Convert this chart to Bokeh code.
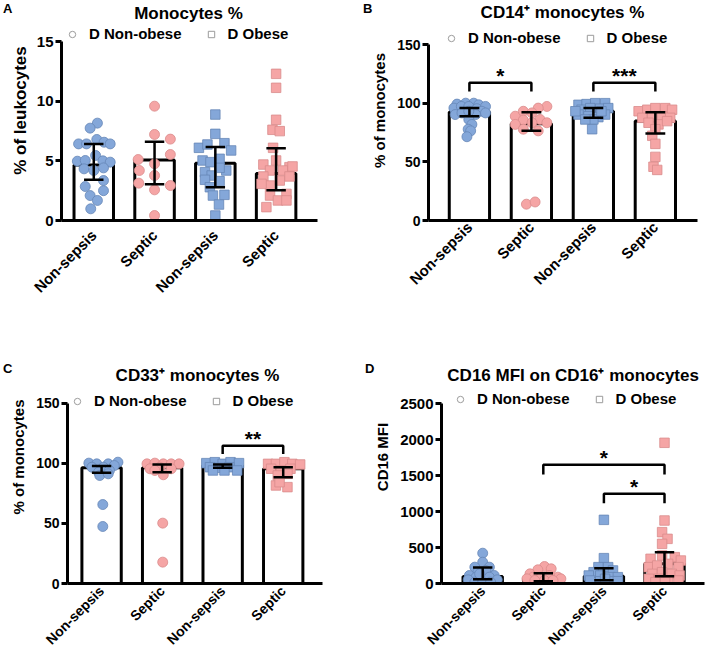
import math
from bokeh.plotting import figure
from bokeh.models import Range1d, FixedTicker, Label, Legend, LegendItem, LinearAxis
from bokeh.layouts import column, row
from bokeh.embed import file_html
from bokeh.resources import INLINE
from bokeh.core.properties import value

# ---------------- data ----------------
CATEGORIES = ["Non-sepsis", "Septic", "Non-sepsis", "Septic"]
LEGEND_LABELS = ["D Non-obese", "D Obese"]

# Panel A
A_TITLE = "Monocytes %"
A_YLABEL = "% of leukocytes"
A_YTICKS = [0, 5, 10, 15]
A_BAR = [4.66, 5.06, 4.80, 3.94]
A_HI = [6.42, 6.59, 6.15, 6.06]
A_LO = [3.41, 3.04, 2.79, 2.54]
A_G1_VAL = [8.16, 7.74, 6.42, 6.42, 6.79, 6.56, 6.42, 5.45, 4.97, 5.03, 5.0, 4.89, 4.33, 4.41, 4.19, 2.85, 3.35, 2.09, 1.68, 0.98, 2.5]
A_G1_OFF = [0.06, -0.06, -0.25, -0.12, 0.05, 0.17, 0.27, 0.03, -0.27, -0.14, 0.15, 0.27, -0.16, 0.16, 0.0, -0.14, 0.16, -0.06, 0.06, -0.05, 0.16]
A_G2_VAL = [9.58, 7.21, 6.82, 5.11, 5.53, 4.19, 4.75, 3.77, 3.13, 2.93, 2.57, 0.42]
A_G2_OFF = [0.0, 0.0, 0.26, -0.27, 0.26, -0.25, 0.0, 0.0, -0.26, 0.26, 0.0, 0.0]
A_G3_VAL = [8.88, 7.26, 6.09, 6.37, 6.48, 5.87, 5.03, 5.17, 4.89, 4.19, 4.05, 4.41, 3.77, 3.41, 3.30, 2.79, 2.09, 2.15, 1.34, 0.42]
A_G3_OFF = [0.0, 0.0, -0.27, -0.13, 0.15, 0.26, -0.21, 0.07, -0.08, 0.18, -0.17, 0.07, -0.06, -0.17, 0.07, -0.09, -0.04, 0.15, 0.06, 0.0]
A_G4_VAL = [12.29, 11.12, 8.44, 7.6, 7.49, 6.09, 4.69, 4.47, 4.19, 4.53, 4.19, 3.69, 3.69, 2.93, 3.35, 2.23, 2.09, 1.68, 1.68, 1.12, 5.03, 3.07]
A_G4_OFF = [0.0, 0.0, 0.0, -0.06, 0.06, -0.05, -0.21, 0.22, 0.11, 0.27, -0.10, 0.22, -0.21, -0.10, 0.06, 0.17, -0.10, 0.03, 0.17, -0.16, 0.0, -0.24]
A_BRACKET_PAIRS = []
A_BRACKET_TOP = []
A_BRACKET_LEG = []
A_BRACKET_TEXT = []

# Panel B
B_TITLE = "CD14\u207a monocytes %"
B_YLABEL = "% of monocytes"
B_YTICKS = [0, 50, 100, 150]
B_BAR = [92.5, 82.5, 93.1, 84.7]
B_HI = [95.8, 92.2, 95.8, 92.2]
B_LO = [88.9, 76.4, 87.5, 74.2]
B_G1_VAL = [99.2, 100, 100, 98.6, 97.2, 95.8, 97.2, 97.2, 95.3, 93.1, 90.3, 91.7, 90.3, 91.7, 93.1, 86.1, 81.9, 77.8, 76.4, 71.4]
B_G1_OFF = [-0.20, -0.06, 0.07, 0.15, 0.26, -0.25, -0.13, -0.01, 0.12, 0.20, -0.23, -0.12, 0.10, 0.26, -0.01, -0.01, 0.04, -0.02, 0.02, -0.04]
B_G2_VAL = [97.2, 95.8, 88.9, 93.1, 91.7, 86.1, 85.6, 83.3, 81.9, 83.3, 77.8, 76.4, 13.9, 15.8]
B_G2_OFF = [0.25, 0.11, -0.26, -0.13, 0.01, 0.14, -0.13, 0.25, -0.26, 0.01, -0.13, 0.11, -0.08, 0.06]
B_G3_VAL = [98.6, 99.2, 100, 100, 94.4, 95.8, 95.3, 95.8, 90.3, 88.9, 88.1, 90.3, 86.1, 86.1, 77.8, 93.1, 93.1]
B_G3_OFF = [-0.24, -0.11, 0.03, 0.19, -0.19, -0.05, 0.11, 0.24, -0.24, -0.08, 0.08, 0.19, 0.0, -0.13, -0.02, 0.13, -0.29]
B_G4_VAL = [93.1, 94.4, 95.8, 95.8, 94.4, 87.5, 88.9, 88.9, 87.5, 83.3, 81.9, 84.7, 77.8, 72.2, 65.3, 54.2, 45.8, 43.1]
B_G4_OFF = [-0.27, -0.13, 0.0, 0.16, 0.27, -0.21, -0.05, 0.11, 0.24, -0.11, 0.05, 0.19, 0.0, -0.05, 0.0, 0.0, -0.03, 0.03]
B_BRACKET_PAIRS = [(1, 2), (3, 4)]
B_BRACKET_TOP = [117.5, 117.5]
B_BRACKET_LEG = [110, 110]
B_BRACKET_TEXT = ["*", "***"]

# Panel C
C_TITLE = "CD33\u207a monocytes %"
C_YLABEL = "% of monocytes"
C_YTICKS = [0, 50, 100, 150]
C_BAR = [96.4, 96.4, 98.3, 95.6]
C_HI = [98.0, 99.2, 99.2, 96.9]
C_LO = [92.2, 92.8, 96.4, 88.6]
C_G1_VAL = [100.3, 99.7, 99.7, 101.1, 96.9, 96.9, 98.3, 92.8, 94.2, 90.0, 91.4, 65.8, 47.5]
C_G1_OFF = [-0.21, -0.08, 0.11, 0.27, -0.16, 0.03, 0.21, -0.05, 0.13, -0.03, 0.11, 0.02, 0.02]
C_G2_VAL = [99.7, 100.3, 99.7, 99.7, 99.7, 95.6, 96.9, 95.6, 90.6, 94.2, 50.3, 17.8]
C_G2_OFF = [-0.25, -0.12, 0.02, 0.15, 0.28, -0.20, -0.04, 0.15, 0.02, -0.12, 0.01, 0.01]
C_G3_VAL = [100.3, 101.1, 99.7, 101.1, 100.3, 96.9, 96.4, 96.9, 94.2, 94.2, 94.2]
C_G3_OFF = [-0.27, -0.13, 0.0, 0.13, 0.27, -0.21, -0.05, 0.11, 0.24, 0.03, -0.16]
C_G4_VAL = [99.7, 99.7, 101.1, 99.7, 99.2, 95.6, 94.2, 95.6, 90.0, 91.4, 81.7, 80.3, 84.4]
C_G4_OFF = [-0.25, -0.12, 0.02, 0.15, 0.28, -0.20, -0.04, 0.12, -0.09, 0.07, -0.12, 0.07, -0.06]
C_BRACKET_PAIRS = [(3, 4)]
C_BRACKET_TOP = [114.7]
C_BRACKET_LEG = [108]
C_BRACKET_TEXT = ["**"]

# Panel D
D_TITLE = "CD16 MFI on CD16\u207a  monocytes"
D_YLABEL = "CD16 MFI"
D_YTICKS = [0, 500, 1000, 1500, 2000, 2500]
D_BAR = [97, 65, 102, 273]
D_HI = [222, 143, 213, 435]
D_LO = [60, 30, 45, 100]
D_G1_VAL = [421, 296, 227, 227, 157, 181, 111, 111, 88, 65, 88, 51, 51, 19, 19, 19, 134]
D_G1_OFF = [0.0, 0.0, -0.13, 0.11, -0.08, 0.05, -0.22, 0.19, -0.11, 0.0, 0.11, -0.24, 0.24, -0.13, 0.0, 0.13, -0.05]
D_G2_VAL = [236, 190, 204, 134, 88, 88, 88, 111, 65, 65, 42, 42, 42]
D_G2_OFF = [0.02, -0.09, 0.13, -0.22, 0.24, -0.17, -0.03, 0.10, -0.27, 0.29, -0.14, 0.02, 0.16]
D_G3_VAL = [884, 352, 227, 227, 157, 181, 111, 111, 88, 88, 42, 32, 32, 32, 65]
D_G3_OFF = [0.0, 0.0, -0.09, 0.07, -0.17, 0.15, -0.25, -0.06, 0.10, 0.23, -0.23, -0.06, 0.10, 0.23, 0.02]
D_G4_VAL = [1954, 875, 713, 620, 551, 343, 389, 366, 319, 227, 250, 273, 227, 134, 157, 134, 111, 65, 65, 42, 42, 19, 19]
D_G4_OFF = [0.0, 0.0, -0.04, 0.05, -0.04, -0.23, -0.04, 0.17, 0.27, -0.26, -0.12, 0.06, 0.23, -0.20, -0.04, 0.12, 0.25, -0.26, -0.10, 0.06, 0.23, -0.15, 0.01]
D_BRACKET_PAIRS = [(2, 4), (3, 4)]
D_BRACKET_TOP = [1648, 1245]
D_BRACKET_LEG = [1514, 1116]
D_BRACKET_TEXT = ["*", "*"]

# ---------------- style ----------------
FONT = "Liberation Sans"
GROUP_FILL = ["#84a7d9", "#f5a5a5", "#84a7d9", "#f5a5a5"]
GROUP_LINE = ["#6686b6", "#d98b8b", "#6686b6", "#d98b8b"]
GROUP_MARKER = ["circle", "circle", "square", "square"]
GROUP_SIZE = [10, 10, 9.5, 9.5]
NAN = float("nan")


def build(letter, title, ylabel, yticks, bars, hi, lo, groups, pairs, btop, bleg, btext, st):
    p = figure(width=st["w"], height=st["h"],
               x_range=Range1d(st["xlo"], st["xhi"]), y_range=Range1d(0, st["ytop"]),
               output_backend="svg", toolbar_location=None, title_location=None,
               min_border_left=st["l"], min_border_right=st["r"],
               min_border_top=0, min_border_bottom=st["b"])
    p.outline_line_color = None
    p.grid.visible = False
    p.background_fill_color = "white"
    p.border_fill_color = "white"

    ya = p.yaxis[0]
    ya.ticker = FixedTicker(ticks=yticks)
    ya.bounds = (yticks[0], yticks[-1])
    ya.axis_label = ylabel
    ya.axis_line_width = 3
    ya.axis_line_color = "black"
    ya.major_tick_line_width = 3
    ya.major_tick_out = 6
    ya.major_tick_in = 0
    ya.minor_tick_line_color = None
    ya.major_label_standoff = 2
    ya.major_label_text_font = FONT
    ya.major_label_text_font_style = "bold"
    ya.major_label_text_font_size = st["ytick_fs"]
    ya.major_label_text_color = "black"
    ya.axis_label_text_font = FONT
    ya.axis_label_text_font_style = "bold"
    ya.axis_label_text_font_size = st["ylab_fs"]
    ya.axis_label_text_color = "black"
    ya.axis_label_standoff = st["ylab_so"]

    # panel letter: single tick label of an outer, line-less left axis
    ly = st["let_y"]
    la = LinearAxis(ticker=FixedTicker(ticks=[ly]), major_label_overrides={ly: letter},
                    bounds=(ly - st["let_d"], ly + st["let_d"]),
                    axis_line_color=None, major_tick_line_color=None,
                    minor_tick_line_color=None, major_tick_out=0, major_tick_in=0,
                    major_label_standoff=st["let_so"], major_label_text_font=FONT,
                    major_label_text_font_style="bold", major_label_text_font_size="13px",
                    major_label_text_color="black")
    p.add_layout(la, "left")

    xa = p.xaxis[0]
    xa.ticker = FixedTicker(ticks=[1, 2, 3, 4])
    xa.major_label_overrides = {i + 1: c for i, c in enumerate(CATEGORIES)}
    xa.major_label_orientation = math.pi / 4
    xa.axis_line_width = 3
    xa.axis_line_color = "black"
    xa.major_tick_line_color = None
    xa.major_tick_out = 0
    xa.major_tick_in = 0
    xa.minor_tick_line_color = None
    xa.major_label_standoff = st["xso"]
    xa.major_label_text_font = FONT
    xa.major_label_text_font_style = "bold"
    xa.major_label_text_font_size = st["xtick_fs"]
    xa.major_label_text_color = "black"

    xs = [1, 2, 3, 4]
    p.vbar(x=xs, top=bars, bottom=0, width=0.65, fill_color="white",
           line_color="black", line_width=3)

    for g, (vals, offs) in enumerate(groups):
        p.scatter(x=[g + 1 + o for o in offs], y=vals, marker=GROUP_MARKER[g],
                  size=GROUP_SIZE[g], fill_color=GROUP_FILL[g],
                  line_color=GROUP_LINE[g], line_width=0.8)

    cap = 0.16
    p.segment(x0=xs, y0=lo, x1=xs, y1=hi, line_color="black", line_width=2.5)
    p.segment(x0=[x - cap for x in xs], y0=hi, x1=[x + cap for x in xs], y1=hi,
              line_color="black", line_width=2.5)
    p.segment(x0=[x - cap for x in xs], y0=lo, x1=[x + cap for x in xs], y1=lo,
              line_color="black", line_width=2.5)

    if pairs:
        p.multi_line(xs=[[a, a, b, b] for a, b in pairs],
                     ys=[[lg, tp, tp, lg] for tp, lg in zip(btop, bleg)],
                     line_color="black", line_width=2.5)
        p.text(x=[(a + b) / 2 for a, b in pairs], y=btop, text=btext,
               text_align="center", text_baseline="alphabetic", y_offset=-7,
               text_font=value(FONT), text_font_style="bold",
               text_font_size="21px", text_color="black")

    r1 = p.scatter(x=[NAN], y=[NAN], marker="circle", size=9, fill_color=None,
                   line_color="#9c9c9c", line_width=1)
    r2 = p.scatter(x=[NAN], y=[NAN], marker="square", size=9, fill_color=None,
                   line_color="#9c9c9c", line_width=1)
    leg = Legend(items=[LegendItem(label=LEGEND_LABELS[0], renderers=[r1]),
                        LegendItem(label=LEGEND_LABELS[1], renderers=[r2])],
                 orientation="horizontal", location=st["leg_loc"],
                 margin=0, padding=0, spacing=18,
                 glyph_width=22, glyph_height=16, label_height=16,
                 label_standoff=6, label_text_font=FONT,
                 label_text_font_style="bold", label_text_font_size="15px",
                 label_text_color="black",
                 border_line_color=None, background_fill_alpha=0)
    p.add_layout(leg)

    p.add_layout(Label(x=st["title_x"], y=st["title_y"], x_units="screen", y_units="screen",
                       text=title, text_align="center", text_baseline="middle",
                       text_font=FONT, text_font_style="bold",
                       text_font_size="17px", text_color="black"))
    return p


pA = build("A", A_TITLE, A_YLABEL, A_YTICKS, A_BAR, A_HI, A_LO,
           [(A_G1_VAL, A_G1_OFF), (A_G2_VAL, A_G2_OFF), (A_G3_VAL, A_G3_OFF), (A_G4_VAL, A_G4_OFF)],
           A_BRACKET_PAIRS, A_BRACKET_TOP, A_BRACKET_LEG, A_BRACKET_TEXT,
           dict(w=360, h=330, l=55, r=43, b=110, xlo=0.469, xhi=4.681, ytop=18.436,
                ytick_fs="15px", ylab_fs="17px", ylab_so=4, xtick_fs="15px", xso=12,
                leg_loc=(0, 178), title_x=127, title_y=207,
                let_y=17.85, let_d=0.05, let_so=-5))
pB = build("B", B_TITLE, B_YLABEL, B_YTICKS, B_BAR, B_HI, B_LO,
           [(B_G1_VAL, B_G1_OFF), (B_G2_VAL, B_G2_OFF), (B_G3_VAL, B_G3_OFF), (B_G4_VAL, B_G4_OFF)],
           B_BRACKET_PAIRS, B_BRACKET_TOP, B_BRACKET_LEG, B_BRACKET_TEXT,
           dict(w=348, h=330, l=67, r=11, b=105, xlo=0.34, xhi=4.68, ytop=187.5,
                ytick_fs="14px", ylab_fs="15px", ylab_so=6, xtick_fs="15px", xso=4,
                leg_loc=(12, 174), title_x=134, title_y=208,
                let_y=181.7, let_d=0.5, let_so=-4))
pC = build("C", C_TITLE, C_YLABEL, C_YTICKS, C_BAR, C_HI, C_LO,
           [(C_G1_VAL, C_G1_OFF), (C_G2_VAL, C_G2_OFF), (C_G3_VAL, C_G3_OFF), (C_G4_VAL, C_G4_OFF)],
           C_BRACKET_PAIRS, C_BRACKET_TOP, C_BRACKET_LEG, C_BRACKET_TEXT,
           dict(w=362, h=326, l=60, r=40, b=73, xlo=0.437, xhi=4.649, ytop=210.83,
                ytick_fs="14px", ylab_fs="15px", ylab_so=6, xtick_fs="14px", xso=5,
                leg_loc=(-1, 174), title_x=130, title_y=208,
                let_y=179.2, let_d=0.5, let_so=-5))
pD = build("D", D_TITLE, D_YLABEL, D_YTICKS, D_BAR, D_HI, D_LO,
           [(D_G1_VAL, D_G1_OFF), (D_G2_VAL, D_G2_OFF), (D_G3_VAL, D_G3_OFF), (D_G4_VAL, D_G4_OFF)],
           D_BRACKET_PAIRS, D_BRACKET_TOP, D_BRACKET_LEG, D_BRACKET_TEXT,
           dict(w=346, h=326, l=72, r=4, b=73, xlo=0.32, xhi=4.66, ytop=3513.9,
                ytick_fs="15px", ylab_fs="15px", ylab_so=6, xtick_fs="14px", xso=5,
                leg_loc=(8, 176), title_x=134, title_y=208,
                let_y=2986.0, let_d=8.0, let_so=-3))

layout = column(row(pA, pB), row(pC, pD))
open("out.html", "w").write(file_html(layout, INLINE))
